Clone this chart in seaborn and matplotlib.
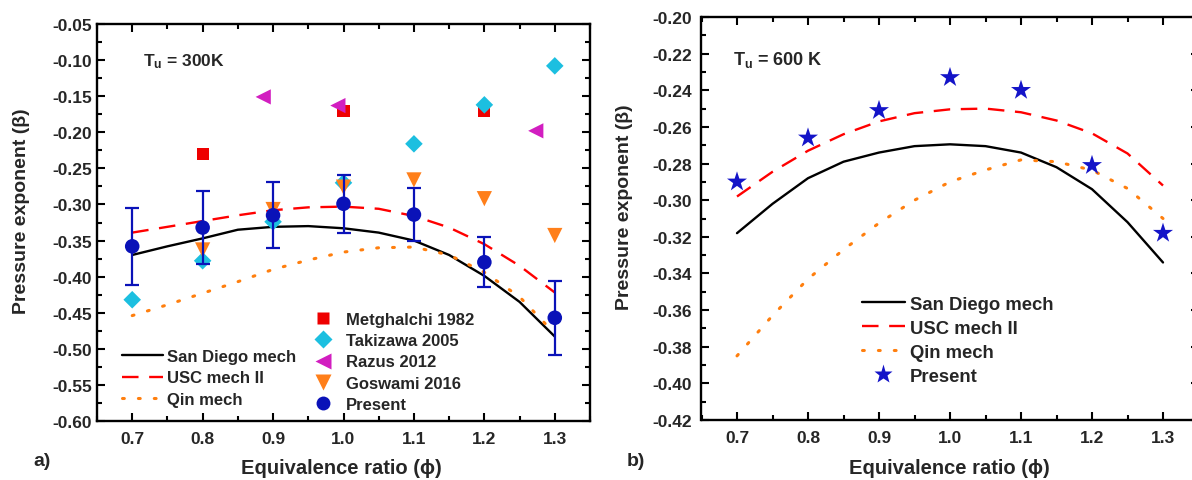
import numpy as np
import pandas as pd
import matplotlib
matplotlib.use("Agg")
import matplotlib.pyplot as plt
from matplotlib.lines import Line2D
from matplotlib.ticker import MultipleLocator, FormatStrFormatter
import seaborn as sns

# ---------------- data ----------------
phi_pts = [0.7, 0.8, 0.9, 1.0, 1.1, 1.2, 1.3]
phi_curve = [0.70, 0.75, 0.80, 0.85, 0.90, 0.95, 1.00, 1.05, 1.10, 1.15, 1.20, 1.25, 1.30]

# Panel a) Tu = 300 K
sd300 = [-0.370, -0.358, -0.347, -0.335, -0.331, -0.330, -0.333, -0.339, -0.350, -0.370, -0.399, -0.435, -0.483]
usc300 = [-0.339, -0.331, -0.323, -0.315, -0.308, -0.304, -0.303, -0.306, -0.316, -0.332, -0.355, -0.385, -0.422]
qin300 = [-0.454, -0.439, -0.423, -0.407, -0.390, -0.377, -0.366, -0.360, -0.359, -0.370, -0.394, -0.428, -0.479]

metghalchi_phi = [0.8, 1.0, 1.2]
metghalchi_b = [-0.230, -0.170, -0.170]
takizawa_phi = [0.7, 0.8, 0.9, 1.0, 1.1, 1.2, 1.3]
takizawa_b = [-0.432, -0.378, -0.324, -0.270, -0.216, -0.162, -0.108]
razus_phi = [0.886, 0.992, 1.273]
razus_b = [-0.151, -0.163, -0.198]
goswami_phi = [0.8, 0.9, 1.0, 1.1, 1.2, 1.3]
goswami_b = [-0.363, -0.307, -0.276, -0.266, -0.292, -0.343]
present300 = [-0.358, -0.332, -0.315, -0.299, -0.314, -0.380, -0.457]
present300_err = [0.053, 0.051, 0.046, 0.040, 0.037, 0.035, 0.051]

# Panel b) Tu = 600 K
sd600 = [-0.318, -0.302, -0.288, -0.279, -0.274, -0.2705, -0.2695, -0.2705, -0.274, -0.282, -0.294, -0.312, -0.334]
usc600 = [-0.298, -0.2845, -0.273, -0.264, -0.257, -0.2525, -0.2504, -0.250, -0.252, -0.2565, -0.2635, -0.2745, -0.292]
qin600 = [-0.385, -0.363, -0.343, -0.327, -0.3125, -0.300, -0.290, -0.2835, -0.278, -0.279, -0.2836, -0.2936, -0.310]
present600 = [-0.290, -0.266, -0.251, -0.233, -0.240, -0.281, -0.318]

# ---------------- style ----------------
sns.set_theme(style="ticks")
plt.rcParams["font.family"] = ["Liberation Sans", "DejaVu Sans"]
plt.rcParams["font.weight"] = "bold"
plt.rcParams["axes.labelweight"] = "bold"
plt.rcParams["mathtext.fontset"] = "custom"
plt.rcParams["mathtext.rm"] = "Liberation Sans:bold"
plt.rcParams["mathtext.bf"] = "Liberation Sans:bold"
plt.rcParams["mathtext.it"] = "Liberation Sans:bold"

C_SD = "black"
C_USC = "#FF0000"
C_QIN = "#FF7F0E"
C_MET = "#EE0000"
C_TAK = "#1CBFE0"
C_RAZ = "#D21EC0"
C_GOS = "#FF7F1A"
C_PRE = "#0A12B8"
C_STAR = "#1414C8"

fig = plt.figure(figsize=(11.92, 4.81), dpi=100)
axA = fig.add_axes([97 / 1192, 59 / 481, 493 / 1192, 397 / 481])
axB = fig.add_axes([701.5 / 1192, 60 / 481, 497 / 1192, 403 / 481])

LW = 1.7
QLW = 2.2
usc_dash = (7, 4.5)
qin_dash = (0.6, 4.6)


def curves(ax, sd, usc, qin):
    df = pd.DataFrame({"phi": phi_curve, "sd": sd, "usc": usc, "qin": qin})
    sns.lineplot(data=df, x="phi", y="sd", ax=ax, color=C_SD, lw=LW, zorder=3)
    sns.lineplot(data=df, x="phi", y="usc", ax=ax, color=C_USC, lw=LW, zorder=3)
    ax.lines[-1].set_dashes(usc_dash)
    sns.lineplot(data=df, x="phi", y="qin", ax=ax, color=C_QIN, lw=QLW, zorder=3)
    ax.lines[-1].set_dashes(qin_dash)
    ax.lines[-1].set_dash_capstyle("round")


def style_axes(ax, ymin, ymax, ymaj, ymin_step, ypad):
    ax.set_xlim(0.65, 1.35)
    ax.set_ylim(ymin, ymax)
    ax.xaxis.set_major_locator(MultipleLocator(0.1))
    ax.xaxis.set_minor_locator(MultipleLocator(0.05))
    ax.yaxis.set_major_locator(MultipleLocator(ymaj))
    ax.yaxis.set_minor_locator(MultipleLocator(ymin_step))
    ax.xaxis.set_major_formatter(FormatStrFormatter("%.1f"))
    ax.yaxis.set_major_formatter(FormatStrFormatter("%.2f"))
    ax.tick_params(which="both", direction="in", top=True, right=True, width=1.5, color="black")
    ax.tick_params(which="major", length=6)
    ax.tick_params(which="minor", length=3.5)
    ax.tick_params(axis="x", which="major", pad=7, labelsize=12.5)
    ax.tick_params(axis="y", which="major", pad=ypad, labelsize=12.5)
    for lab in ax.get_xticklabels() + ax.get_yticklabels():
        lab.set_fontweight("bold")
    for s in ax.spines.values():
        s.set_linewidth(1.7)
        s.set_color("black")
        s.set_visible(True)


# ---------------- panel a ----------------
curves(axA, sd300, usc300, qin300)
sns.scatterplot(x=metghalchi_phi, y=metghalchi_b, ax=axA, marker="s", s=75, color=C_MET, edgecolor="none", zorder=4)
sns.scatterplot(x=takizawa_phi, y=takizawa_b, ax=axA, marker="D", s=80, color=C_TAK, edgecolor="none", zorder=4)
sns.scatterplot(x=razus_phi, y=razus_b, ax=axA, marker="<", s=120, color=C_RAZ, edgecolor="none", zorder=4)
sns.scatterplot(x=goswami_phi, y=goswami_b, ax=axA, marker="v", s=120, color=C_GOS, edgecolor="none", zorder=4)
axA.errorbar(phi_pts, present300, yerr=present300_err, fmt="none", ecolor=C_PRE,
             elinewidth=1.6, capsize=5, capthick=1.6, zorder=5)
sns.scatterplot(x=phi_pts, y=present300, ax=axA, marker="o", s=110, color=C_PRE, edgecolor="none", zorder=6)

style_axes(axA, -0.60, -0.05, 0.05, 0.025, 3.5)
axA.set_xlabel("Equivalence ratio (\u03d5)", fontsize=14.5, fontweight="bold")
axA.set_ylabel("Pressure exponent (\u03b2)", fontsize=14, fontweight="bold", va="center")
axA.yaxis.set_label_coords(-0.154, 0.53)
axA.xaxis.set_label_coords(0.495, -0.116)
axA.xaxis.label.set_verticalalignment("center")
axA.text(0.715, -0.101, r"$\mathbf{T_u}$ = 300K", fontsize=12.5, fontweight="bold", va="center", ha="left")

line_handles = [
    Line2D([], [], color=C_SD, lw=LW),
    Line2D([], [], color=C_USC, lw=LW, dashes=usc_dash),
    Line2D([], [], color=C_QIN, lw=QLW, dashes=qin_dash, dash_capstyle="round"),
]
line_labels = ["San Diego mech", "USC mech II", "Qin mech"]
legA1 = axA.legend(line_handles, line_labels, loc="upper left", bbox_to_anchor=(0.05, 0.182),
                   frameon=False, borderpad=0, borderaxespad=0, handlelength=2.5, handletextpad=0.25,
                   labelspacing=0.4, prop={"size": 12, "weight": "bold"})
axA.add_artist(legA1)
mk_handles = [
    Line2D([], [], ls="none", marker="s", ms=8.5, color=C_MET, mec="none"),
    Line2D([], [], ls="none", marker="D", ms=9, color=C_TAK, mec="none"),
    Line2D([], [], ls="none", marker="<", ms=11, color=C_RAZ, mec="none"),
    Line2D([], [], ls="none", marker="v", ms=11, color=C_GOS, mec="none"),
    Line2D([], [], ls="none", marker="o", ms=10, color=C_PRE, mec="none"),
]
mk_labels = ["Metghalchi 1982", "Takizawa 2005", "Razus 2012", "Goswami 2016", "Present"]
axA.legend(mk_handles, mk_labels, loc="upper left", bbox_to_anchor=(0.442, 0.275),
           frameon=False, borderpad=0, borderaxespad=0, handlelength=1.0, handletextpad=0.85,
           labelspacing=0.38, prop={"size": 12, "weight": "bold"})

# ---------------- panel b ----------------
curves(axB, sd600, usc600, qin600)
sns.scatterplot(x=phi_pts, y=present600, ax=axB, marker="*", s=230, color=C_STAR, edgecolor="none", zorder=6)
style_axes(axB, -0.42, -0.20, 0.02, 0.01, 7)
axB.set_xlabel("Equivalence ratio (\u03d5)", fontsize=14.5, fontweight="bold")
axB.set_ylabel("Pressure exponent (\u03b2)", fontsize=14, fontweight="bold", va="center")
axB.yaxis.set_label_coords(-0.155, 0.531)
axB.xaxis.set_label_coords(0.498, -0.117)
axB.xaxis.label.set_verticalalignment("center")
axB.text(0.694, -0.2227, r"$\mathbf{T_u}$ = 600 K", fontsize=13, fontweight="bold", va="center", ha="left")

b_handles = line_handles + [Line2D([], [], ls="none", marker="*", ms=14, color=C_STAR, mec="none")]
b_labels = line_labels + ["Present"]
axB.legend(b_handles, b_labels, loc="upper left", bbox_to_anchor=(0.323, 0.308),
           frameon=False, borderpad=0, borderaxespad=0, handlelength=2.3, handletextpad=0.27,
           labelspacing=0.38, prop={"size": 13.3, "weight": "bold"})

fig.text(42 / 1192, 1 - 462 / 481, "a)", fontsize=14, fontweight="bold", ha="center", va="center")
fig.text(636 / 1192, 1 - 462 / 481, "b)", fontsize=14, fontweight="bold", ha="center", va="center")

fig.savefig("out.png", dpi=100)
